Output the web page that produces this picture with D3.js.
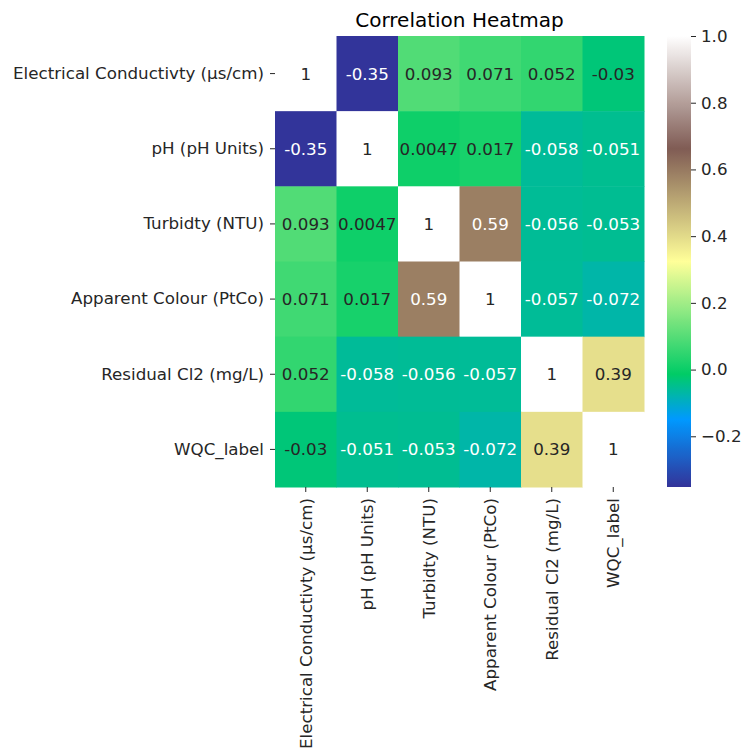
<!DOCTYPE html>
<html><head><meta charset="utf-8">
<script src="https://cdn.jsdelivr.net/npm/d3@7"></script>
<style>body{margin:0;background:#fff;} text{font-family:"DejaVu Sans",sans-serif;}</style>
</head><body>
<svg id="c" width="745" height="748"></svg>
<script>
const labels = ["Electrical Conductivty (µs/cm)","pH (pH Units)","Turbidty (NTU)","Apparent Colour (PtCo)","Residual Cl2 (mg/L)","WQC_label"];
const row0 = [1, -0.35, 0.093, 0.071, 0.052, -0.03];
const row1 = [-0.35, 1, 0.0047, 0.017, -0.058, -0.051];
const row2 = [0.093, 0.0047, 1, 0.59, -0.056, -0.053];
const row3 = [0.071, 0.017, 0.59, 1, -0.057, -0.072];
const row4 = [0.052, -0.058, -0.056, -0.057, 1, 0.39];
const row5 = [-0.03, -0.051, -0.053, -0.072, 0.39, 1];
const matrix = [row0,row1,row2,row3,row4,row5];
const cbTicks = [-0.2, 0.0, 0.2, 0.4, 0.6, 0.8, 1.0];
const vmin = -0.352, vmax = 1.0;

// matplotlib "terrain" colormap
const terrainStops = [
  [0.00,[0.2,0.2,0.6]],[0.15,[0.0,0.6,1.0]],[0.25,[0.0,0.8,0.4]],
  [0.50,[1.0,1.0,0.6]],[0.75,[0.5,0.36,0.33]],[1.00,[1.0,1.0,1.0]]];
function terrain(t){
  t = Math.max(0,Math.min(1,t));
  for(let i=0;i<terrainStops.length-1;i++){
    const [a,ca]=terrainStops[i],[b,cb]=terrainStops[i+1];
    if(t<=b){const f=(t-a)/(b-a);return ca.map((v,k)=>v+(cb[k]-v)*f);}
  }
  return terrainStops[terrainStops.length-1][1];
}
const norm = d3.scaleLinear().domain([vmin,vmax]).range([0,1]);
const rgbStr = c => d3.rgb(c[0]*255,c[1]*255,c[2]*255).formatHex();
const color = v => rgbStr(terrain(norm(v)));
function lum(c){const l=c.map(v=>v<=0.03928?v/12.92:Math.pow((v+0.055)/1.055,2.4));return 0.2126*l[0]+0.7152*l[1]+0.0722*l[2];}

const FS = "16.7px";
const svg = d3.select("#c");
const L=275, R=644, T=36, B=487;
const x = d3.scaleBand().domain(d3.range(6)).range([L,R]);
const y = d3.scaleBand().domain(d3.range(6)).range([T,B]);

const cells = [];
matrix.forEach((r,i)=>r.forEach((v,j)=>cells.push({i,j,v})));
svg.append("g").selectAll("rect").data(cells).join("rect")
  .attr("x",d=>x(d.j)).attr("y",d=>y(d.i))
  .attr("width",x.bandwidth()+0.5).attr("height",y.bandwidth()+0.5)
  .attr("fill",d=>color(d.v));
svg.append("g").selectAll("text").data(cells).join("text")
  .attr("x",d=>x(d.j)+x.bandwidth()/2).attr("y",d=>y(d.i)+y.bandwidth()/2)
  .attr("text-anchor","middle").attr("dominant-baseline","central")
  .attr("font-size",FS)
  .attr("fill",d=>lum(terrain(norm(d.v)))>0.408?"#262626":"#ffffff")
  .text(d=>String(d.v));

// axes
const yAxis = d3.axisLeft(d3.scaleBand().domain(labels).range([T,B])).tickSize(5).tickPadding(6);
const gy = svg.append("g").attr("transform",`translate(${L},0)`).call(yAxis);
const xAxis = d3.axisBottom(d3.scaleBand().domain(labels).range([L,R])).tickSize(5).tickPadding(6);
const gx = svg.append("g").attr("transform",`translate(0,${B})`).call(xAxis);
[gy,gx].forEach(g=>{g.select(".domain").remove();
  g.selectAll(".tick line").attr("stroke","#262626").attr("stroke-width",1);
  g.selectAll(".tick text").attr("font-size",FS).attr("fill","#262626").attr("font-family","DejaVu Sans");});
gx.selectAll(".tick text").attr("transform","rotate(-90)").attr("text-anchor","end")
  .attr("x",-11).attr("y",0).attr("dy","0.35em");

// title
svg.append("text").attr("x",(L+R)/2).attr("y",27).attr("text-anchor","middle")
  .attr("font-size","20px").attr("fill","#000").text("Correlation Heatmap");

// colorbar
const cbX=667, cbW=24;
const cy = d3.scaleLinear().domain([vmin,vmax]).range([B,T]);
const defs = svg.append("defs");
const grad = defs.append("linearGradient").attr("id","cbg").attr("x1",0).attr("y1",1).attr("x2",0).attr("y2",0);
d3.range(0,1.0001,0.01).forEach(t=>grad.append("stop").attr("offset",t).attr("stop-color",rgbStr(terrain(t))));
svg.append("rect").attr("x",cbX).attr("y",T).attr("width",cbW).attr("height",B-T).attr("fill","url(#cbg)");
const cAxis = d3.axisRight(cy).tickValues(cbTicks).tickSize(5).tickPadding(5)
  .tickFormat(d=>d<0?"\u2212"+Math.abs(d).toFixed(1):d.toFixed(1));
const gc = svg.append("g").attr("transform",`translate(${cbX+cbW},0)`).call(cAxis);
gc.select(".domain").remove();
gc.selectAll(".tick line").attr("stroke","#262626");
gc.selectAll(".tick text").attr("font-size",FS).attr("fill","#262626").attr("font-family","DejaVu Sans");
</script>
</body></html>
